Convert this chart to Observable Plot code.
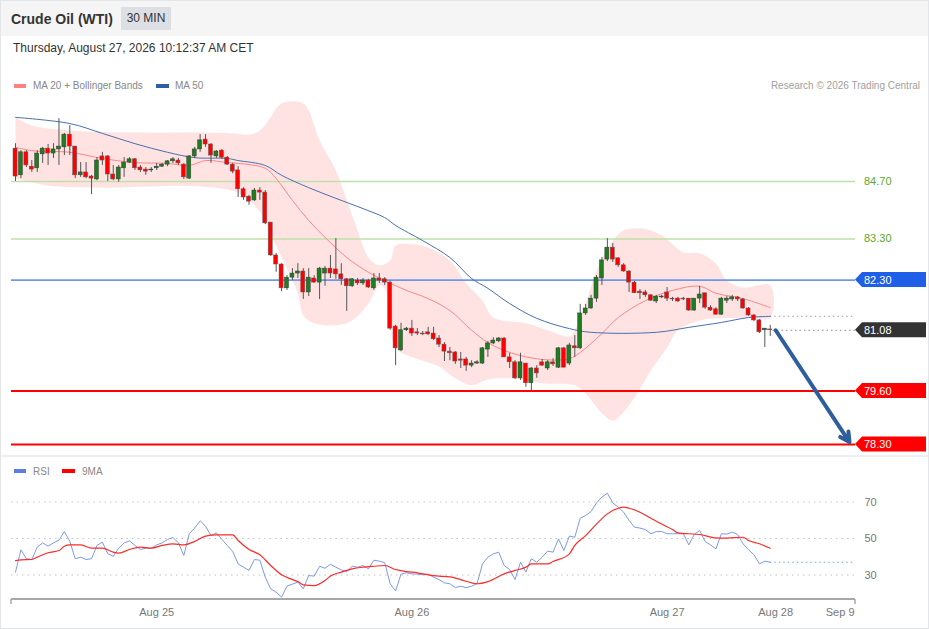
<!DOCTYPE html>
<html>
<head>
<meta charset="utf-8">
<script src="https://cdn.jsdelivr.net/npm/d3@7"></script>
<script src="https://cdn.jsdelivr.net/npm/@observablehq/plot@0.6"></script>
<style>
html,body{margin:0;padding:0;background:#fff;}
#wrap{position:relative;width:929px;height:629px;overflow:hidden;font-family:"Liberation Sans",Arial,Helvetica,sans-serif;color:#333;background:#fff;}
.abs{position:absolute;white-space:nowrap;}
#hdr{left:0;top:0;width:929px;height:36px;background:#f5f5f5;}
#title{left:11px;top:10px;font-size:14px;font-weight:bold;line-height:18px;color:#333;}
#badge{left:121px;top:7px;width:50px;height:23px;line-height:23px;text-align:center;background:#dcdfe4;font-size:12px;color:#333;}
#date{left:13px;top:41px;font-size:12px;line-height:14px;color:#333;}
.lg{font-size:10px;line-height:12px;color:#888;}
.sw{height:4px;}
#border{left:0;top:0;width:929px;height:629px;box-sizing:border-box;border:1px solid #e3e5e8;pointer-events:none;}
#sep{left:0;top:455px;width:929px;height:2px;background:#eceef1;}
#main{left:0;top:95px;}
#rsi{left:0;top:455px;}
#main svg,#rsi svg{display:block;}
</style>
</head>
<body>
<div id="wrap">
  <div id="hdr" class="abs"></div>
  <div id="title" class="abs">Crude Oil (WTI)</div>
  <div id="badge" class="abs">30 MIN</div>
  <div id="date" class="abs">Thursday, August 27, 2026 10:12:37 AM CET</div>
  <div class="abs sw" style="left:14px;top:84px;width:12px;background:#ff8080"></div>
  <div class="abs lg" style="left:33px;top:80px">MA 20 + Bollinger Bands</div>
  <div class="abs sw" style="left:156px;top:84px;width:13px;background:#2e5ea3"></div>
  <div class="abs lg" style="left:175px;top:80px">MA 50</div>
  <div class="abs lg" style="right:9px;top:80px;color:#a0a0a0">Research © 2026 Trading Central</div>
  <div id="main" class="abs"></div>
  <div id="rsi" class="abs"></div>
  <div id="sep" class="abs"></div>
  <div class="abs sw" style="left:14px;top:469px;width:12px;background:#5b7fe0"></div>
  <div class="abs lg" style="left:33px;top:466px">RSI</div>
  <div class="abs sw" style="left:62px;top:469px;width:13px;background:#ff0000"></div>
  <div class="abs lg" style="left:82px;top:466px">9MA</div>
  <div id="border" class="abs"></div>
</div>
<script>
// ---------- DATA ----------
// 30-min candles [open, high, low, close]
const candles = [
[85.50,85.62,84.70,84.82],[84.85,85.45,84.77,85.41],[85.41,85.45,85.04,85.09],[85.06,85.21,84.92,84.99],
[85.02,85.45,84.92,85.38],[85.36,85.53,85.14,85.50],[85.50,85.60,85.09,85.38],[85.38,85.62,85.26,85.48],
[85.48,86.23,85.09,85.55],[85.53,85.87,85.33,85.84],[85.84,86.06,85.33,85.55],[85.55,85.55,84.77,84.85],
[84.85,85.16,84.80,84.92],[84.92,85.16,84.77,84.80],[84.82,84.85,84.38,84.77],[84.75,85.28,84.72,85.21],
[85.31,85.41,85.09,85.21],[85.31,85.33,84.70,84.87],[84.87,85.09,84.72,84.75],[84.75,85.09,84.68,85.04],
[85.02,85.28,84.80,85.16],[85.16,85.28,85.14,85.24],[85.24,85.26,84.97,85.02],[85.04,85.09,84.92,84.97],
[84.99,85.04,84.85,84.94],[84.97,85.04,84.92,84.99],[85.02,85.14,84.97,85.06],[85.06,85.14,85.04,85.11],
[85.11,85.21,85.06,85.19],[85.19,85.28,85.14,85.24],[85.21,85.26,85.09,85.14],[85.11,85.14,84.75,84.80],
[84.77,85.33,84.75,85.31],[85.31,85.53,85.26,85.48],[85.48,85.84,85.41,85.70],[85.72,85.84,85.53,85.60],
[85.60,85.62,85.14,85.33],[85.31,85.45,85.26,85.43],[85.45,85.48,85.24,85.28],[85.28,85.31,85.09,85.11],
[85.11,85.14,84.89,84.94],[84.97,85.06,84.31,84.51],[84.51,84.55,84.24,84.31],[84.33,84.36,84.12,84.21],
[84.24,84.53,84.21,84.48],[84.48,84.55,84.24,84.43],[84.43,84.48,83.65,83.68],[83.70,83.70,82.88,82.90],
[82.90,82.95,82.49,82.68],[82.68,82.70,82.02,82.10],[82.10,82.41,82.05,82.36],[82.36,82.58,82.29,82.46],
[82.46,82.70,82.34,82.51],[82.51,82.58,81.83,82.00],[82.00,82.58,81.90,82.36],[82.34,82.41,82.22,82.24],
[82.24,82.61,81.83,82.58],[82.46,82.63,82.15,82.58],[82.58,82.90,82.34,82.46],[82.56,83.31,82.32,82.44],
[82.44,82.70,82.17,82.32],[82.32,82.34,81.54,82.15],[82.15,82.34,82.12,82.32],[82.29,82.34,82.17,82.22],
[82.22,82.34,82.17,82.29],[82.29,82.32,82.10,82.12],[82.10,82.46,82.05,82.34],[82.34,82.46,82.22,82.29],
[82.32,82.36,82.17,82.24],[82.24,82.27,81.08,81.12],[81.17,81.20,80.22,80.64],[80.59,81.25,80.56,81.08],
[81.08,81.15,81.05,81.12],[81.12,81.32,80.93,81.00],[81.03,81.12,80.95,81.00],[81.00,81.05,80.95,80.98],
[81.03,81.15,80.95,80.98],[81.00,81.15,80.83,80.86],[80.88,80.95,80.66,80.73],[80.73,80.78,80.32,80.56],
[80.56,80.66,80.34,80.52],[80.54,80.56,80.25,80.32],[80.37,80.54,80.15,80.34],[80.37,80.42,80.08,80.22],
[80.22,80.34,80.17,80.27],[80.27,80.34,80.25,80.30],[80.27,80.66,80.25,80.64],[80.61,80.81,80.42,80.76],
[80.76,80.90,80.73,80.83],[80.81,80.90,80.78,80.88],[80.88,80.90,80.42,80.42],[80.42,80.52,80.15,80.30],
[80.30,80.34,79.88,79.91],[79.91,80.52,79.86,80.30],[80.27,80.27,79.69,79.79],[79.79,80.17,79.61,80.15],
[80.15,80.22,79.91,80.03],[80.30,80.37,80.20,80.22],[80.15,80.34,80.10,80.30],[80.30,80.39,80.20,80.25],
[80.17,80.66,80.15,80.64],[80.64,80.66,80.17,80.17],[80.27,80.76,80.22,80.71],[80.69,80.95,80.42,80.64],
[80.64,81.71,80.61,81.49],[81.49,81.71,81.44,81.61],[81.61,81.93,81.59,81.85],[81.85,82.41,81.76,82.36],
[82.34,82.85,82.17,82.78],[82.80,83.31,82.75,83.09],[83.09,83.19,82.73,82.80],[82.83,82.85,82.61,82.66],
[82.66,82.70,82.49,82.51],[82.51,82.53,82.00,82.24],[82.24,82.27,81.98,81.98],[82.02,82.07,81.83,81.98],
[82.00,82.05,81.88,81.93],[81.93,81.95,81.78,81.80],[81.78,81.93,81.73,81.90],[81.88,81.93,81.85,81.90],
[82.00,82.12,81.78,81.85],[81.85,81.88,81.78,81.83],[81.85,81.88,81.76,81.78],[81.85,81.88,81.80,81.83],
[81.85,81.85,81.54,81.56],[81.56,81.85,81.54,81.85],[81.85,82.15,81.73,81.95],[81.98,81.98,81.59,81.63],
[81.63,81.68,81.54,81.56],[81.59,81.63,81.44,81.46],[81.46,81.88,81.44,81.85],[81.80,81.90,81.73,81.85],
[81.83,81.93,81.78,81.88],[81.88,81.90,81.78,81.83],[81.83,81.85,81.59,81.61],[81.61,81.63,81.42,81.44],
[81.44,81.46,81.29,81.32],[81.32,81.34,81.00,81.03],[81.08,81.12,80.66,81.12],[81.10,81.20,80.93,81.08]
];
// Moving averages and Bollinger bands [candle index, price]
const ma20 = [[0,85.53],[3,85.45],[10,85.41],[16,85.26],[22,85.16],[28,85.14],[32,85.09],[35,85.21],[39,85.16],[41,85.14],[46,85.02],[48,84.77],[51,84.24],[54,83.75],[57,83.34],[61,82.85],[65,82.49],[68,82.29],[72,82.05],[76,81.85],[80,81.56],[84,81.08],[87,80.78],[91,80.54],[97,80.37],[102,80.39],[104,80.54],[108,81.00],[111,81.39],[116,81.80],[121,82.05],[126,82.15],[129,81.98],[134,81.85],[139,81.63]];
const ma50 = [[0,86.26],[10,86.11],[16,85.87],[22,85.62],[28,85.41],[33,85.28],[39,85.26],[41,85.21],[46,85.09],[49,84.85],[54,84.55],[59,84.29],[64,84.04],[68,83.82],[70,83.63],[75,83.26],[80,82.85],[84,82.34],[87,82.10],[91,81.73],[96,81.37],[102,81.12],[106,81.03],[118,81.03],[124,81.15],[130,81.27],[135,81.39],[139,81.42]];
const bandUpper = [[0,86.26],[3,86.06],[10,85.94],[22,85.89],[34,85.89],[40,85.87],[43,85.84],[45,85.94],[47,86.26],[48,86.48],[49,86.60],[51,86.65],[53,86.60],[54,86.43],[56,85.70],[59,84.97],[61,84.24],[63,83.51],[65,82.85],[67,82.66],[69,82.78],[70,83.14],[73,83.17],[76,83.09],[80,82.78],[83,82.22],[86,81.80],[88,81.39],[94,81.25],[98,81.08],[102,80.93],[103,81.08],[105,81.73],[107,82.53],[110,83.26],[112,83.51],[115,83.56],[119,83.39],[123,82.97],[126,82.95],[129,82.70],[131,82.29],[134,82.12],[139,82.17]];
const bandLower = [[0,84.77],[6,84.60],[16,84.55],[25,84.58],[34,84.58],[41,84.43],[44,84.12],[46,83.75],[48,83.14],[50,82.58],[52,81.98],[53,81.44],[55,81.25],[59,81.20],[62,81.32],[65,81.73],[67,82.17],[68,82.10],[69,81.32],[70,80.64],[75,80.34],[78,80.20],[81,79.91],[84,79.74],[87,79.88],[91,79.91],[97,79.79],[103,79.74],[105,79.54],[108,79.06],[110,78.88],[111,78.96],[114,79.44],[117,80.10],[120,80.66],[122,81.08],[126,81.32],[130,81.37],[135,81.39],[139,81.39]];
// Key levels
const resistanceLevels = [84.70, 83.30];
const pivotLevel = 82.30;
const supportLevels = [79.60, 78.30];
// Projected move [candle index, price]
const arrowFrom = [140, 81.08];
const arrowTo = [153.6, 78.36];
// RSI(14) per candle and its 9-period MA [candle index, value]
const rsi = [31.6,43.8,38.9,38.5,45.3,47.6,45.8,47.6,49.1,53.8,48.4,38.9,39.8,38.5,38.9,46.2,48.0,41.6,40.3,44.7,
47.6,48.7,46.2,44.0,44.7,44.7,46.5,47.6,49.5,50.6,47.6,40.7,52.7,55.7,59.7,56.8,51.6,53.1,49.5,46.2,
42.9,36.1,34.3,32.5,38.5,38.1,28.8,22.4,20.6,17.9,23.9,25.0,26.1,22.4,29.7,29.4,34.8,33.7,35.9,34.3,
32.8,31.9,34.8,34.3,35.2,33.4,38.1,37.6,36.7,25.2,21.3,30.5,31.2,30.6,30.5,30.1,30.5,28.8,27.5,25.7,
25.2,23.1,23.9,23.0,23.9,25.2,36.1,39.8,41.6,42.5,35.2,33.0,27.5,37.0,31.6,38.9,37.0,39.8,43.1,42.5,
49.8,43.4,51.3,50.7,61.1,62.6,64.8,69.5,72.7,74.8,69.5,67.2,64.4,59.9,56.2,55.7,54.9,52.6,53.8,53.8,
52.6,52.6,52.6,52.6,46.5,52.2,54.4,48.4,46.5,44.3,52.6,52.4,53.5,52.2,47.1,43.8,41.1,36.1,37.6,37.0];
const rsiMa = [[0,37.9],[1,38.3],[3,38.5],[4,39.8],[6,42.2],[8,43.4],[9,45.8],[10,46.5],[12,46.5],[14,44.7],[16,44.7],[18,42.5],[19,42.0],[21,44.0],[23,45.3],[25,44.7],[27,46.2],[29,47.1],[31,46.5],[33,48.4],[35,51.3],[37,52.0],[40,52.0],[41,48.9],[43,44.0],[45,41.1],[47,35.2],[49,30.1],[51,27.5],[52,26.4],[53,24.6],[55,24.2],[57,27.0],[58,29.4],[60,31.6],[62,33.4],[64,34.3],[66,34.8],[68,35.2],[70,33.0],[72,31.9],[74,31.2],[76,30.1],[78,29.4],[80,29.0],[82,27.5],[85,25.2],[87,26.4],[90,30.6],[92,32.5],[94,34.3],[95,36.1],[98,36.1],[99,37.4],[102,41.6],[103,46.2],[105,51.6],[107,57.9],[109,63.5],[111,66.6],[112,67.2],[113,66.6],[115,64.4],[117,61.1],[119,57.9],[121,54.9],[122,53.1],[124,52.6],[126,52.2],[129,50.3],[131,50.2],[134,50.7],[135,48.9],[137,47.1],[139,44.7]];
const rsiGrid = [30, 50, 70];
// Date axis (candle index of each label)
const tickIdx = [26, 73, 120, 140];
const tickLabels = ["Aug 25", "Aug 26", "Aug 27", "Aug 28"];
const endLabel = "Sep 9";

// ---------- LAYOUT ----------
const W = 929;
const xDomain = [-0.74, 154.7];
const priceDomain = [78.033, 86.792];
const rsiDomain = [16.58, 95.48];
const FONT = '"Liberation Sans", Arial, Helvetica, sans-serif';

const C = candles.map(([o, h, l, c], i) => ({i, o, h, l, c, lo: Math.min(o, c), hi: Math.max(o, c)}));
const up = C.filter(d => d.c >= d.o);
const down = C.filter(d => d.c < d.o);
const lastIdx = C.length - 1;
const lastClose = C[lastIdx].c;
const bandPoly = bandUpper.concat(bandLower.slice().reverse());

const tagRows = [
  ...resistanceLevels.map(v => ({v, color: "#5ea82a", plain: true})),
  {v: pivotLevel, color: "#1f5fe8"},
  {v: lastClose, color: "#333333"},
  ...supportLevels.map(v => ({v, color: "#ff0000"}))
];

function tagsMark(index, scales, values, dims) {
  const g = d3.create("svg:g").attr("font-family", FONT).attr("font-size", 11).attr("text-anchor", "start");
  const x0 = dims.width - dims.marginRight;
  for (const t of tagRows) {
    const y = scales.y(t.v);
    if (t.plain) {
      g.append("text").attr("x", x0 + 9).attr("y", y).attr("dy", "0.36em").attr("text-anchor", "start")
        .attr("fill", t.color).text(t.v.toFixed(2));
    } else {
      g.append("path")
        .attr("d", `M${x0},${y}L${x0 + 7},${y - 7.5}H${x0 + 71}V${y + 7.5}H${x0 + 7}Z`)
        .attr("fill", t.color);
      g.append("text").attr("x", x0 + 9).attr("y", y).attr("dy", "0.36em").attr("text-anchor", "start")
        .attr("fill", "#fff").text(t.v.toFixed(2));
    }
  }
  return g.node();
}

const mainPlot = Plot.plot({
  width: W, height: 360,
  marginLeft: 11, marginRight: 74, marginTop: 0, marginBottom: 0,
  x: {domain: xDomain, axis: null},
  y: {domain: priceDomain, axis: null},
  style: {fontFamily: FONT, background: "transparent", overflow: "visible"},
  marks: [
    Plot.line(bandPoly, {x: d => d[0], y: d => d[1], fill: "#ffe3e3", stroke: "none", curve: "catmull-rom"}),
    Plot.ruleY(resistanceLevels, {stroke: "#bfe0a8", strokeWidth: 1.5}),
    Plot.ruleY([pivotLevel], {stroke: "#6f98ea", strokeWidth: 1.8}),
    Plot.ruleY(supportLevels, {stroke: "#ff0000", strokeWidth: 2}),
    Plot.ruleY([ma50[ma50.length - 1][1]], {x1: lastIdx, x2: xDomain[1], stroke: "#9aa0aa", strokeDasharray: "1.5,3"}),
    Plot.ruleY([lastClose], {x1: lastIdx + 0.5, x2: xDomain[1], stroke: "#888", strokeDasharray: "1.5,3"}),
    Plot.line(ma20, {x: d => d[0], y: d => d[1], stroke: "#ff8585", strokeWidth: 1, curve: "catmull-rom"}),
    Plot.line(ma50, {x: d => d[0], y: d => d[1], stroke: "#4a6eae", strokeWidth: 1, curve: "catmull-rom"}),
    Plot.ruleX(C, {x: "i", y1: "l", y2: "h", stroke: "#555", strokeWidth: 1}),
    Plot.rect(down, {x1: d => d.i - 0.37, x2: d => d.i + 0.37, y1: "lo", y2: "hi", fill: "#ff0000", stroke: "#5a5a5a", strokeWidth: 0.5}),
    Plot.rect(up, {x1: d => d.i - 0.37, x2: d => d.i + 0.37, y1: "lo", y2: "hi", fill: "#1e7d1e", stroke: "#3a3a3a", strokeWidth: 0.5}),
    Plot.arrow([{x1: arrowFrom[0], y1: arrowFrom[1], x2: arrowTo[0], y2: arrowTo[1]}],
      {x1: "x1", y1: "y1", x2: "x2", y2: "y2", stroke: "#2f5e9e", strokeWidth: 4, headLength: 4, headAngle: 55}),
    tagsMark
  ]
});
document.getElementById("main").append(mainPlot);

function axisMark(index, scales, values, dims) {
  const g = d3.create("svg:g").attr("stroke", "#a8a8a8");
  const x0 = dims.marginLeft, x1 = dims.width - dims.marginRight, y = dims.height - dims.marginBottom;
  g.append("line").attr("x1", x0).attr("x2", x1).attr("y1", y).attr("y2", y).attr("stroke-width", 2);
  g.append("line").attr("x1", x0).attr("x2", x0).attr("y1", y).attr("y2", y + 5).attr("stroke-width", 1.5);
  g.append("line").attr("x1", x1).attr("x2", x1).attr("y1", y).attr("y2", y + 5).attr("stroke-width", 1.5);
  return g.node();
}

const rsiRows = rsi.map((v, i) => ({i, v}));
const tickRows = tickIdx.map((i, k) => ({i, label: tickLabels[k]}));
const rsiPlot = Plot.plot({
  width: W, height: 174,
  marginLeft: 11, marginRight: 74, marginTop: 0, marginBottom: 30,
  x: {domain: xDomain, axis: null},
  y: {domain: rsiDomain, axis: null},
  style: {fontFamily: FONT, background: "transparent", overflow: "visible"},
  marks: [
    Plot.ruleY(rsiGrid, {stroke: "#c4c4c4", strokeDasharray: "1.5,4"}),
    Plot.text(rsiGrid, {x: xDomain[1], y: d => d, dx: 9, textAnchor: "start", text: d => String(d), fill: "#777", fontSize: 11}),
    Plot.ruleY([rsi[rsi.length - 1]], {x1: lastIdx, x2: xDomain[1], stroke: "#7d9ae8", strokeDasharray: "1.5,3"}),
    Plot.line(rsiRows, {x: "i", y: "v", stroke: "#7d9ae8", strokeWidth: 1}),
    Plot.line(rsiMa, {x: d => d[0], y: d => d[1], stroke: "#ff2a2a", strokeWidth: 1.2, curve: "monotone-x"}),
    axisMark,
    Plot.text(tickRows, {x: "i", y: rsiDomain[0], dy: 13, text: "label", fill: "#777", fontSize: 11}),
    Plot.text([endLabel], {x: xDomain[1], y: rsiDomain[0], dy: 13, dx: -1, text: d => d, textAnchor: "end", fill: "#777", fontSize: 11})
  ]
});
document.getElementById("rsi").append(rsiPlot);
</script>
</body>
</html>
